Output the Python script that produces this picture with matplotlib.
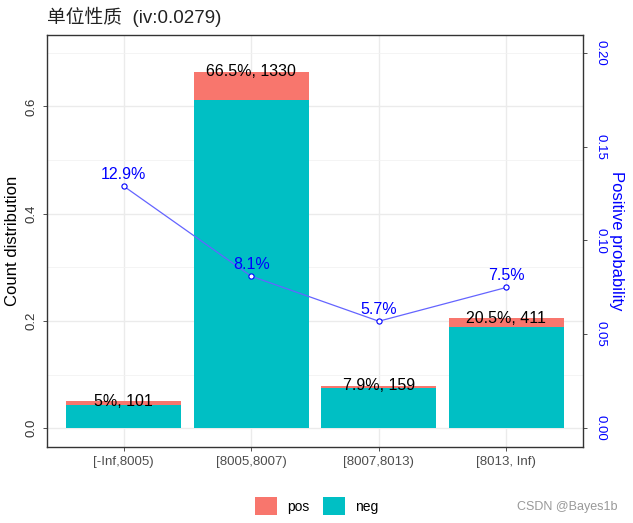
import matplotlib.pyplot as plt
import numpy as np
from matplotlib.patches import Patch

plt.rcParams['font.family'] = ['Liberation Sans', 'Noto Sans CJK SC', 'DejaVu Sans']

bins = ['[-Inf,8005)', '[8005,8007)', '[8007,8013)', '[8013, Inf)']
count_distr = np.array([0.05, 0.665, 0.079, 0.205])
count = [101, 1330, 159, 411]
count_lab = ['5%', '66.5%', '7.9%', '20.5%']
posprob = np.array([0.129, 0.081, 0.057, 0.075])
posprob_lab = ['12.9%', '8.1%', '5.7%', '7.5%']
title = '单位性质  (iv:0.0279)'

pos_col = '#F8766D'
neg_col = '#00BFC4'
scale = 3.5  # left axis / right axis

fig = plt.figure(figsize=(6.33, 5.23), dpi=100)
ax = fig.add_axes([0.0742, 0.1453, 0.8468, 0.7877])
x = np.arange(1, len(bins) + 1)

neg = count_distr * (1 - posprob)
pos = count_distr * posprob
ax.bar(x, neg, width=0.9, color=neg_col, zorder=2)
ax.bar(x, pos, width=0.9, bottom=neg, color=pos_col, zorder=2)
for xi, c, lab, n in zip(x, count_distr, count_lab, count):
    ax.text(xi, c, f'{lab}, {n}', ha='center', va='center', fontsize=11.5, color='black', zorder=5)

ax.plot(x, posprob * scale, color='#6464ff', lw=0.9, zorder=3)
ax.scatter(x, posprob * scale, s=14, facecolor='white', edgecolor='blue', lw=0.8, zorder=4)
for xi, p, lab in zip(x, posprob, posprob_lab):
    ax.annotate(lab, (xi, p * scale), xytext=(0, 3), textcoords='offset points',
                ha='center', va='bottom', fontsize=11.5, color='blue', zorder=5)

ax.set_xlim(0.4, 4.6)
ax.set_ylim(-0.035, 0.733)
ax.set_xticks(x)
ax.set_xticklabels(bins, fontsize=9.5, color='#4D4D4D')
ax.set_yticks([0, 0.2, 0.4, 0.6])
ax.set_yticklabels(['0.0', '0.2', '0.4', '0.6'], rotation=90, va='center', fontsize=9.5, color='#4D4D4D')
ax.set_yticks([0.1, 0.3, 0.5, 0.7], minor=True)
ax.tick_params(axis='y', which='minor', length=0)
ax.tick_params(colors='#333333', length=3, width=0.6)
ax.tick_params(axis='x', labelcolor='#4D4D4D')
ax.grid(True, which='major', color='#EBEBEB', lw=1.0, zorder=0)
ax.grid(True, which='minor', axis='y', color='#F2F2F2', lw=0.6, zorder=0)
ax.set_axisbelow(True)
for s in ax.spines.values():
    s.set_color('#333333')
    s.set_linewidth(1.0)
ax.set_ylabel('Count distribution', fontsize=12, color='black')

ax2 = ax.twinx()
ax2.set_ylim(-0.035 / scale, 0.733 / scale)
rt = [0, 0.05, 0.10, 0.15, 0.20]
ax2.set_yticks(rt)
ax2.set_yticklabels(['0.00', '0.05', '0.10', '0.15', '0.20'], rotation=-90, va='center',
                    fontsize=9.5, color='blue')
ax2.tick_params(colors='#333333', length=3, width=0.6, labelcolor='blue', pad=5)
ax2.set_ylabel('Positive probability', fontsize=12, color='blue', rotation=-90, labelpad=13)
for s in ax2.spines.values():
    s.set_visible(False)

fig.text(0.0742, 0.967, title, fontsize=13.5, color='#222222', va='center', ha='left')

handles = [Patch(facecolor=pos_col, label='pos'), Patch(facecolor=neg_col, label='neg')]
fig.legend(handles=handles, loc='center', bbox_to_anchor=(0.5, 0.032), ncol=2, frameon=False,
           fontsize=10, handlelength=1.6, handleheight=1.6, columnspacing=1.0, handletextpad=0.7)

fig.text(0.975, 0.03, 'CSDN @Bayes1b', fontsize=9, color='#999999', ha='right', va='center')

fig.savefig('out.png', dpi=100)
